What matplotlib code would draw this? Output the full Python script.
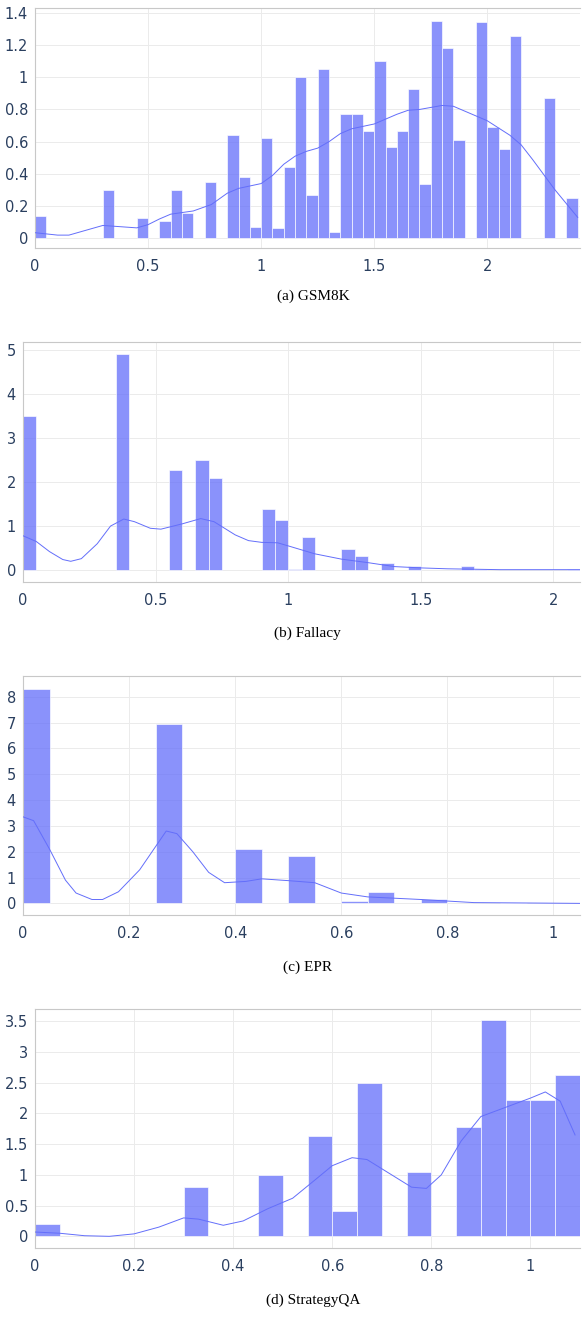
import matplotlib
matplotlib.use("Agg")
import matplotlib.pyplot as plt
from matplotlib.ticker import FuncFormatter, MultipleLocator

W = 0.05
# (a) GSM8K
a_bins = [0.00,0.30,0.45,0.55,0.60,0.65,0.75,0.85,0.90,0.95,1.00,1.05,1.10,1.15,1.20,1.25,1.30,1.35,1.40,1.45,1.50,1.55,1.60,1.65,1.70,1.75,1.80,1.85,1.95,2.00,2.05,2.10,2.25,2.35]
a_vals = [0.14,0.30,0.125,0.11,0.30,0.16,0.35,0.64,0.38,0.07,0.625,0.065,0.44,1.00,0.27,1.05,0.04,0.775,0.77,0.665,1.10,0.565,0.665,0.93,0.34,1.35,1.18,0.61,1.345,0.69,0.555,1.255,0.87,0.25]
a_kx = [0,0.1,0.15,0.2,0.3,0.35,0.45,0.5,0.55,0.6,0.7,0.78,0.85,0.9,1.0,1.05,1.1,1.15,1.2,1.25,1.3,1.35,1.4,1.5,1.6,1.65,1.7,1.8,1.85,1.9,2.0,2.1,2.15,2.2,2.3,2.4]
a_ky = [0.035,0.02,0.02,0.04,0.08,0.075,0.065,0.085,0.12,0.15,0.17,0.21,0.28,0.31,0.34,0.39,0.46,0.51,0.54,0.56,0.6,0.65,0.68,0.71,0.77,0.795,0.8,0.825,0.82,0.79,0.73,0.64,0.58,0.49,0.3,0.13]
# (b) Fallacy
b_bins = [0.00,0.35,0.55,0.65,0.70,0.90,0.95,1.00,1.05,1.20,1.25,1.35,1.45,1.65,1.70,2.05]
b_vals = [3.5,4.9,2.28,2.5,2.1,1.38,1.13,0.02,0.76,0.48,0.32,0.17,0.1,0.1,0.02,0.02]
b_kx = [0,0.05,0.1,0.15,0.18,0.22,0.28,0.33,0.38,0.42,0.48,0.52,0.6,0.67,0.72,0.8,0.85,0.9,0.96,1.0,1.1,1.2,1.3,1.4,1.5,1.6,1.8,2.1]
b_ky = [0.78,0.65,0.42,0.24,0.2,0.26,0.6,1.0,1.16,1.1,0.95,0.93,1.05,1.17,1.1,0.8,0.67,0.63,0.62,0.55,0.37,0.25,0.17,0.08,0.05,0.03,0.01,0.01]
# (c) EPR
c_bins = [0.00,0.25,0.40,0.50,0.60,0.65,0.75,0.90]
c_vals = [8.3,6.95,2.1,1.83,0.1,0.45,0.15,0.01]
c_kx = [0,0.02,0.05,0.08,0.1,0.13,0.15,0.18,0.22,0.25,0.27,0.29,0.32,0.35,0.38,0.42,0.45,0.5,0.55,0.6,0.65,0.75,0.85,1.05]
c_ky = [3.35,3.2,2.1,0.9,0.4,0.15,0.15,0.45,1.3,2.2,2.8,2.7,2.0,1.2,0.8,0.85,0.95,0.88,0.8,0.4,0.25,0.15,0.03,0.0]
# (d) StrategyQA
d_bins = [0.00,0.30,0.45,0.55,0.60,0.65,0.75,0.85,0.90,0.95,1.00,1.05]
d_vals = [0.2,0.8,1.0,1.63,0.41,2.5,1.05,1.78,3.52,2.22,2.22,2.63]
d_kx = [0,0.05,0.1,0.15,0.2,0.25,0.3,0.33,0.38,0.42,0.47,0.52,0.57,0.6,0.64,0.67,0.72,0.76,0.79,0.82,0.86,0.9,0.95,1.0,1.03,1.06,1.09]
d_ky = [0.07,0.05,0.01,0.0,0.04,0.15,0.3,0.28,0.18,0.25,0.45,0.62,0.95,1.15,1.28,1.25,1.0,0.8,0.78,1.0,1.55,1.95,2.1,2.25,2.35,2.2,1.65]

captions = ["(a) GSM8K", "(b) Fallacy", "(c) EPR", "(d) StrategyQA"]
panels = [
    (a_bins, a_vals, a_kx, a_ky, (0, 2.41), (-0.06, 1.43), 0.5, 0.2, (35, 8, 580, 248), 296),
    (b_bins, b_vals, b_kx, b_ky, (0, 2.10), (-0.27, 5.18), 0.5, 1, (23, 342, 580, 582), 633),
    (c_bins, c_vals, c_kx, c_ky, (0, 1.05), (-0.45, 8.8), 0.2, 1, (23, 676, 580, 915), 967),
    (d_bins, d_vals, d_kx, d_ky, (0, 1.10), (-0.19, 3.7), 0.2, 0.5, (35, 1009, 580, 1248), 1300),
]
FW, FH = 585, 1317
fig = plt.figure(figsize=(FW/100, FH/100), dpi=100)
navy = "#2a3f5f"
fmt = FuncFormatter(lambda v, p: f"{v:g}")
for (bins, vals, kx, ky, xl, yl, xs, ys, box, cy), cap in zip(panels, captions):
    l, t, r, b = box
    ax = fig.add_axes([l/FW, 1 - b/FH, (r-l)/FW, (b-t)/FH])
    ax.bar(bins, vals, width=W, align="edge", color="#636efa", alpha=0.75,
           edgecolor="white", linewidth=0.6, zorder=2)
    ax.plot(kx, ky, color="#636efa", lw=0.7, zorder=3)
    ax.set_xlim(*xl); ax.set_ylim(*yl)
    ax.xaxis.set_major_locator(MultipleLocator(xs))
    ax.yaxis.set_major_locator(MultipleLocator(ys))
    ax.xaxis.set_major_formatter(fmt); ax.yaxis.set_major_formatter(fmt)
    ax.grid(True, color="#ebebeb", lw=0.7, zorder=0)
    ax.set_axisbelow(True)
    for s in ax.spines.values():
        s.set_color("#c8c8c8"); s.set_linewidth(0.8)
    ax.spines["right"].set_visible(False)
    ax.tick_params(length=0, labelsize=10.5, colors=navy, pad=5)
    ax.tick_params(axis="x", pad=8)
    fig.text(((l + r) / 2) / FW + 0.01, 1 - cy/FH, cap, ha="center", va="center",
             family="Liberation Serif", fontsize=11, color="black")
fig.savefig("out.png", dpi=100)
